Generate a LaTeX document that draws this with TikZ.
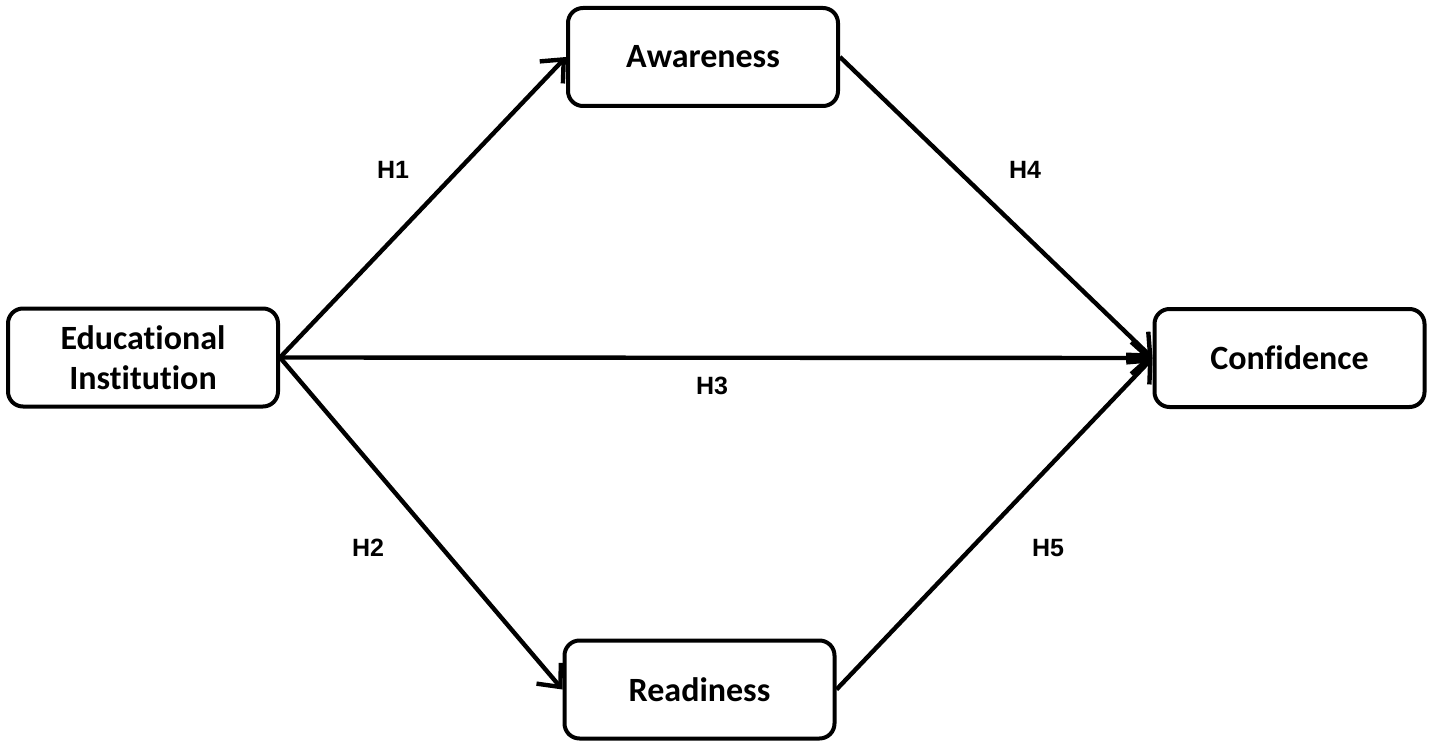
\documentclass[tikz,border=0pt]{standalone}
\usepackage{fontspec}
\setmainfont[Ligatures=NoCommon]{Carlito}
\newfontfamily\hfont{Liberation Sans}
\usetikzlibrary{arrows.meta,positioning}

\tikzset{
  varbox/.style={draw,line width=2pt,rounded corners=7.5pt,minimum width=135pt,
    minimum height=49pt,align=center,font=\fontsize{17}{20}\selectfont\bfseries},
  path/.style={line width=2.2pt,-{Straight Barb[length=9pt,width=16pt,line width=2.2pt]}},
  hyp/.style={font=\hfont\fontsize{12.5}{14}\selectfont\bfseries}
}

\begin{document}
\begin{tikzpicture}[x=0.5pt,y=-0.5pt]
  \useasboundingbox (0,0) rectangle (1430,749);

  % constructs
  \node[varbox] (edu) at (143,357.5) {Educational\\Institution};
  \node[varbox] (aware) at (703,57) {Awareness};
  \node[varbox] (ready) at (699.5,689.5) {Readiness};
  \node[varbox] (conf) at (1289.5,358) {Confidence};

  % hypotheses
  \draw[path] (edu.east) -- (aware.west);
  \draw[path] (edu.east) -- (ready.west);
  \draw[path] (edu.east) -- (conf.west);
  \draw[path] (aware.east) -- (conf.west);
  \draw[path] (ready.east) -- (conf.west);

  \node[hyp] (h1) at (393,170) {H1};
  \node[hyp] (h2) at (368,548) {H2};
  \node[hyp] (h3) at (712,386) {H3};
  \node[hyp] (h4) at (1025,170) {H4};
  \node[hyp] (h5) at (1048,548) {H5};
\end{tikzpicture}
\end{document}
